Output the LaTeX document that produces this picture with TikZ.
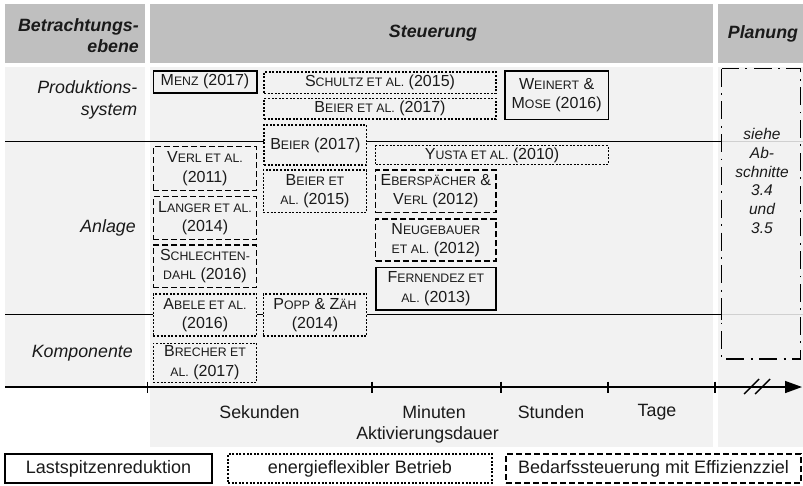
\documentclass[tikz,border=0pt]{standalone}
\usepackage{fontspec}
\setmainfont{Liberation Sans}
\usetikzlibrary{arrows.meta}
\definecolor{headgray}{HTML}{BFBFBF}
\definecolor{bodygray}{HTML}{F2F2F2}
\definecolor{sepgray}{HTML}{D0D0D0}
\definecolor{ink}{HTML}{1A1A1A}
% fake small capitals: capital letters set at a reduced size
\newcommand\lcaps[1]{{\fontsize{12.3}{12.3}\selectfont#1}}
\newcommand\boxfont{\fontsize{16}{19.5}\selectfont}
\newcommand\labfont{\fontsize{17.8}{21.5}\selectfont}
\tikzset{
  lit/.style={draw=black, fill=bodygray, line width=1.3pt, inner sep=0pt,
    align=center, font=\boxfont, text=ink},
  solidbox/.style={lit, line width=1.6pt},
  dotbox/.style={lit, dash pattern=on 2pt off 1.6pt},
  dashbox/.style={lit, dash pattern=on 6pt off 3pt},
  legsolid/.style={solidbox, fill=white, font=\fontsize{18}{21}\selectfont},
  legdot/.style={dotbox, fill=white, font=\fontsize{18}{21}\selectfont},
  legdash/.style={dashbox, fill=white, font=\fontsize{18}{21}\selectfont},
  headtext/.style={font=\labfont\bfseries\itshape, text=ink, inner sep=0pt},
  rowtext/.style={font=\labfont\itshape, text=ink, inner sep=0pt, align=right, anchor=east},
  axtext/.style={font=\labfont, text=ink, inner sep=0pt},
  rowline/.style={line width=1.4pt, black},
  dashdot/.style={line width=1.4pt, dash pattern=on 18pt off 6.5pt on 1.8pt off 6.5pt},
  axisline/.style={line width=1.5pt, -{Triangle[length=17pt,width=12pt]}},
}
\begin{document}
\begin{tikzpicture}[x=1pt,y=-1pt]
\useasboundingbox (0,0) rectangle (803,485);

% table background: header cells and body columns
\fill[headgray] (5,4) rectangle (145,63);
\fill[headgray] (150,4) rectangle (713,63);
\fill[headgray] (718,4) rectangle (803,63);
\fill[bodygray] (5,67) rectangle (145,387);
\fill[bodygray] (150,67) rectangle (713,447);
\fill[bodygray] (718,67) rectangle (803,447);

% header labels
\node[headtext, align=right, anchor=east] (hlevel) at (139,35.5) {Betrachtungs-\\ebene};
\node[headtext] (hsteu) at (433,33.5) {Steuerung};
\node[headtext] (hplan) at (763,33.5) {Planung};

% row labels
\node[rowtext] (rprod) at (137.5,100) {Produktions-\\system};
\node[rowtext] (ranl) at (136,228) {Anlage};
\node[rowtext] (rkomp) at (133,353) {Komponente};

% row separators
\coordinate (r1a) at (5,141.5);  \coordinate (r1b) at (721.7,141.5);
\coordinate (r2a) at (5,314.5);  \coordinate (r2b) at (721.7,314.5);
\draw[sepgray, line width=1pt] (r1b) -- (803,141.5);
\draw[sepgray, line width=1pt] (r2b) -- (803,314.5);
\draw[rowline] (r1a) -- (r1b);
\draw[rowline] (r2a) -- (r2b);
\draw[rowline] ([yshift=-5pt]r1b) -- ([yshift=5pt]r1b);
\draw[rowline] ([yshift=-5pt]r2b) -- ([yshift=5pt]r2b);

% time axis
\coordinate (ax0) at (5,387);
\coordinate (ax1) at (802,387);
\draw[axisline] (ax0) -- (ax1);
\foreach \tx in {147.5,372,501,608,715}
  \draw[line width=1.3pt] (\tx,381.5) -- (\tx,392.5);
\draw[line width=1.4pt] (744,394) -- (759,379);
\draw[line width=1.4pt] (755,394) -- (770,379);
\node[axtext] (tsek) at (259.5,412) {Sekunden};
\node[axtext] (tmin) at (434,412) {Minuten};
\node[axtext] (tstd) at (551,412) {Stunden};
\node[axtext] (ttag) at (657,412) {Tage};
\node[axtext] (tdauer) at (427.5,435) {Aktivierungsdauer};

% planning column
\draw[dashdot] (721.7,68.5) rectangle (800.5,359);
\node[font=\fontsize{15.5}{18.8}\selectfont\itshape, text=ink, align=center, inner sep=0pt]
  (plan) at (762,181) {siehe\\Ab-\\schnitte\\3.4\\und\\3.5};

% literature boxes: first column
\node[solidbox, minimum width=103.4pt, minimum height=21.7pt] (menz) at (205,81.85) {M\lcaps{ENZ} (2017)};
\node[dashbox, minimum width=103.4pt, minimum height=44pt] (verl) at (205,168.7) {V\lcaps{ERL ET AL.}\\(2011)};
\node[dashbox, minimum width=103.4pt, minimum height=42.6pt] (langer) at (205,218) {L\lcaps{ANGER ET AL.}\\(2014)};
\node[dashbox, minimum width=103.4pt, minimum height=42.3pt] (schlecht) at (205,266.15) {S\lcaps{CHLECHTEN-}\\\lcaps{DAHL} (2016)};
\node[dotbox, minimum width=103.4pt, minimum height=42pt] (abele) at (205,315) {A\lcaps{BELE ET AL.}\\(2016)};
\node[dotbox, minimum width=103.4pt, minimum height=39pt] (brecher) at (205,362.8) {B\lcaps{RECHER ET}\\\lcaps{AL.} (2017)};

% second column
\node[dotbox, minimum width=232pt, minimum height=21.3pt] (schultz) at (380,82.65) {S\lcaps{CHULTZ ET AL.} (2015)};
\node[dotbox, minimum width=232pt, minimum height=20.7pt] (beierb) at (380,108.65) {B\lcaps{EIER ET AL.} (2017)};
\node[dotbox, minimum width=102.7pt, minimum height=40pt] (beiera) at (315.35,145) {B\lcaps{EIER} (2017)};
\node[dotbox, minimum width=103.4pt, minimum height=42.3pt] (beierc) at (315,191.15) {B\lcaps{EIER ET}\\\lcaps{AL.} (2015)};
\node[dotbox, minimum width=103.4pt, minimum height=42pt] (popp) at (315,315) {P\lcaps{OPP} \& Z\lcaps{ÄH}\\(2014)};

% third column
\node[solidbox, minimum width=103.3pt, minimum height=48.3pt] (weinert) at (556.65,95.15) {W\lcaps{EINERT} \&\\M\lcaps{OSE} (2016)};
\node[dotbox, minimum width=232.6pt, minimum height=18.6pt] (yusta) at (492,155) {Y\lcaps{USTA ET AL.} (2010)};
\node[dashbox, minimum width=120.3pt, minimum height=42.7pt] (ebersp) at (435.85,191.35) {E\lcaps{BERSPÄCHER} \&\\V\lcaps{ERL} (2012)};
\node[dashbox, minimum width=120.3pt, minimum height=42pt] (neugeb) at (435.85,240) {N\lcaps{EUGEBAUER}\\\lcaps{ET AL.} (2012)};
\node[solidbox, minimum width=120.3pt, minimum height=42.7pt] (fern) at (435.85,288.65) {F\lcaps{ERNENDEZ ET}\\\lcaps{AL.} (2013)};

% legend
\node[legsolid, minimum width=207pt, minimum height=29pt] (leg1) at (108.5,468.5) {Lastspitzenreduktion};
\node[legdot, minimum width=264pt, minimum height=29pt] (leg2) at (360,468.5) {energieflexibler Betrieb};
\node[legdash, minimum width=295pt, minimum height=29pt] (leg3) at (653.5,468.5) {Bedarfssteuerung mit Effizienzziel};
\end{tikzpicture}
\end{document}
